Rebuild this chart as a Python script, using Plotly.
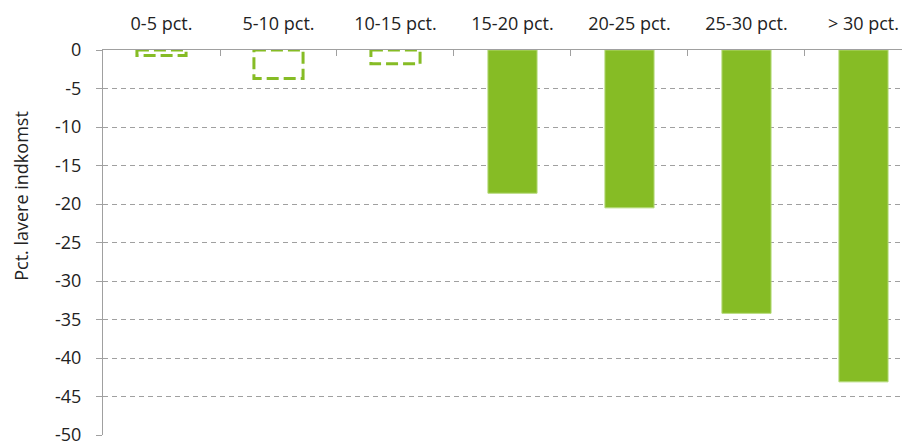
import plotly.graph_objects as go

# Kategorier (indkomstfald) og ændring i pct.
kategorier = ["0-5 pct.", "5-10 pct.", "10-15 pct.", "15-20 pct.", "20-25 pct.", "25-30 pct.", "> 30 pct."]
vaerdier = [-0.7, -3.7, -1.8, -18.6, -20.5, -34.2, -43.1]
signifikant = [False, False, False, True, True, True, True]

y_ticks = [0, -5, -10, -15, -20, -25, -30, -35, -40, -45, -50]
y_labels = ["0", "-5", "-10", "-15", "-20", "-25", "-30", "-35", "-40", "-45", "-50"]

groen = "#86BC25"
graa = "#A0A0A0"
bredde = 0.42

fig = go.Figure()

# fyldte søjler (signifikante)
fig.add_trace(go.Bar(
    x=kategorier,
    y=[v if s else None for v, s in zip(vaerdier, signifikant)],
    width=bredde,
    marker=dict(color=groen, line=dict(color="#B5DA7A", width=1)),
    showlegend=False,
    hoverinfo="x+y",
))

# ikke signifikante - usynlig bar + stiplet omrids
fig.add_trace(go.Bar(
    x=kategorier,
    y=[v if not s else None for v, s in zip(vaerdier, signifikant)],
    width=bredde,
    marker=dict(color="rgba(0,0,0,0)"),
    showlegend=False,
    hoverinfo="x+y",
))
for i, (v, s) in enumerate(zip(vaerdier, signifikant)):
    if not s:
        fig.add_shape(
            type="rect", xref="x", yref="y",
            x0=i - bredde / 2, x1=i + bredde / 2, y0=0, y1=v,
            line=dict(color=groen, width=3, dash="12px,5px"),
            fillcolor="white", layer="above",
        )

# aksetitel som annotation, da den sidder lidt over midten i originalen
fig.add_annotation(
    text="Pct. lavere indkomst", textangle=-90,
    xref="paper", yref="paper", x=-0.1, y=0.62,
    xanchor="center", yanchor="middle", showarrow=False,
    font=dict(size=18),
)

# siden har 8px body-margen, så marginerne er trukket lidt ind
fig.update_layout(
    width=910, height=441,
    margin=dict(l=95, r=0, t=42, b=14),
    plot_bgcolor="white", paper_bgcolor="white",
    font=dict(family="Open Sans", size=18, color="#222222"),
    barmode="overlay",
    xaxis=dict(
        side="top",
        range=[-0.5, 6.466],
        showline=True, linecolor=graa, linewidth=1,
        ticks="inside", ticklen=6, tickcolor=graa,
        tickson="boundaries",
        showgrid=False,
        ticklabelstandoff=12,
        automargin=False,
    ),
    yaxis=dict(
        range=[-50, 0],
        tickvals=y_ticks, ticktext=y_labels,
        showline=True, linecolor=graa, linewidth=1,
        ticks="outside", ticklen=6, tickcolor=graa,
        showgrid=True, gridcolor=graa, griddash="5px,4px", gridwidth=1,
        zeroline=False,
        ticklabelstandoff=11,
        automargin=False,
    ),
)

fig.write_html("out.html")
